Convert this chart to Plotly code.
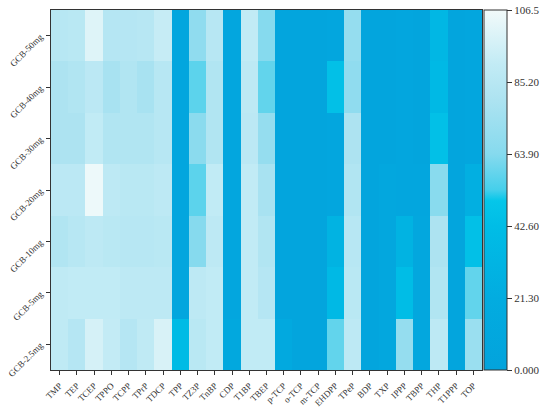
import plotly.graph_objects as go

compounds = ["TMP", "TEP", "TCEP", "TPPO", "TCPP", "TPrP", "TDCP", "TPP", "TZ3P", "TnBP",
             "CDP", "T1BP", "TBEP", "p-TCP", "o-TCP", "m-TCP", "EHDPP", "TPeP", "BDP", "TXP",
             "IPPP", "TBPP", "THP", "T1PPP", "TOP"]
doses = ["GCB-50mg", "GCB-40mg", "GCB-30mg", "GCB-20mg", "GCB-10mg", "GCB-5mg", "GCB-2.5mg"]

# recovery per compound, one list per GCB dose (top row first)
gcb_50 = [85, 86, 100, 84, 84, 85, 92, 8, 68, 85, 8, 90, 64, 5, 5, 5, 8, 70, 5, 5, 8, 5, 35, 5, 8]
gcb_40 = [80, 82, 87, 78, 82, 78, 85, 8, 57, 82, 8, 88, 58, 5, 5, 5, 45, 68, 5, 5, 8, 5, 38, 5, 8]
gcb_30 = [80, 80, 90, 82, 82, 82, 85, 8, 66, 82, 8, 87, 70, 5, 5, 5, 8, 80, 5, 5, 8, 5, 45, 5, 8]
gcb_20 = [87, 87, 105, 88, 86, 86, 88, 8, 57, 90, 8, 90, 78, 5, 5, 5, 8, 82, 5, 10, 8, 8, 65, 5, 25]
gcb_10 = [82, 85, 88, 86, 85, 85, 86, 8, 64, 88, 8, 90, 82, 5, 5, 5, 30, 85, 5, 10, 30, 10, 80, 5, 45]
gcb_5 = [89, 90, 90, 90, 88, 88, 88, 8, 88, 90, 8, 90, 84, 5, 5, 5, 38, 86, 5, 10, 42, 10, 82, 5, 58]
gcb_2_5 = [89, 84, 97, 91, 84, 89, 98, 40, 86, 90, 12, 90, 90, 15, 5, 5, 58, 88, 5, 10, 70, 10, 88, 5, 72]

cbar_vals = [0, 21.3, 42.6, 63.9, 85.2, 106.5]
cbar_text = ["0.000", "21.30", "42.60", "63.90", "85.20", "106.5"]

z = [gcb_50, gcb_40, gcb_30, gcb_20, gcb_10, gcb_5, gcb_2_5]

scale = [
    [0.0, "#03a3dc"], [0.2, "#02ace0"], [0.4, "#00bde6"], [0.47, "#05c6e9"],
    [0.5, "#45cfeb"], [0.6, "#86daee"], [0.75, "#ade3f1"], [0.85, "#c2ebf5"],
    [1.0, "#f2fafa"],
]

font = dict(family="Liberation Serif", size=9, color="#333333")

fig = go.Figure(go.Heatmap(
    z=z, x=compounds, y=doses,
    zmin=0, zmax=106.5, colorscale=scale,
    colorbar=dict(
        x=1.005, xanchor="left", xpad=0, y=0.5, yanchor="middle", ypad=0,
        len=1, thickness=23, outlinewidth=1, outlinecolor="#333333",
        ticks="outside", ticklen=5, tickcolor="#333333",
        tickvals=cbar_vals, ticktext=cbar_text,
        tickfont=dict(family="Liberation Serif", size=11, color="#333333"),
    ),
))

fig.update_xaxes(tickangle=-45, ticks="outside", ticklen=4, tickcolor="#333333",
                 showline=True, linecolor="#333333", linewidth=1, mirror=True,
                 tickfont=font, showgrid=False, ticklabelstandoff=2)
fig.update_yaxes(autorange="reversed", tickangle=-45, ticks="outside", ticklen=4,
                 tickcolor="#333333", showline=True, linecolor="#333333", linewidth=1,
                 mirror=True, tickfont=font, showgrid=False, ticklabelstandoff=4)

fig.update_layout(
    width=550, height=409,
    margin=dict(l=51, r=68, t=10, b=39, autoexpand=False),
    paper_bgcolor="white", plot_bgcolor="white",
)

# page has a default body margin, drop it so the figure sits at 0,0
fig.write_html("out.html", config={"displayModeBar": False},
               post_script="document.body.style.margin='0';")
